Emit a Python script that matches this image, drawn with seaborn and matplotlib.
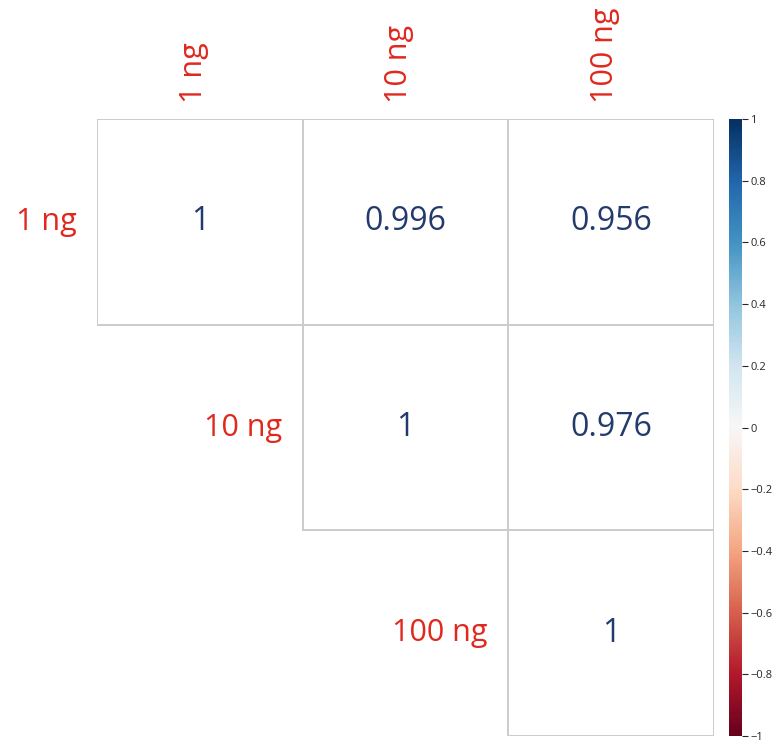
import numpy as np
import pandas as pd
import matplotlib
matplotlib.use("Agg")
import matplotlib.pyplot as plt
import seaborn as sns
from matplotlib.colors import ListedColormap, Normalize
from matplotlib.cm import ScalarMappable

labels = ["1 ng", "10 ng", "100 ng"]
row_1ng = [1.0, 0.996, 0.956]
row_10ng = [0.996, 1.0, 0.976]
row_100ng = [0.956, 0.976, 1.0]
cbar_ticks = [-1, -0.8, -0.6, -0.4, -0.2, 0, 0.2, 0.4, 0.6, 0.8, 1]

corr = pd.DataFrame([row_1ng, row_10ng, row_100ng], index=labels, columns=labels)
mask = np.tril(np.ones(corr.shape, dtype=bool), k=-1)

sns.set_style("white")
plt.rcParams['font.family'] = ['Open Sans', 'DejaVu Sans']

fig = plt.figure(figsize=(7.72, 7.41), dpi=100)
ax = fig.add_axes([0.1256, 0.0067, 0.7993, 0.8327])
cax = fig.add_axes([0.9443, 0.0067, 0.0168, 0.8327])

annot = corr.map(lambda v: f"{v:g}")
sns.heatmap(corr, mask=mask, cmap=ListedColormap(["white"]), cbar=False,
            annot=annot, fmt="", annot_kws={"fontsize": 23, "color": "#233a6c"},
            linewidths=1.3, linecolor="#cccccc", ax=ax)

# only outline the cells that are shown (upper triangle)
mesh = ax.collections[0]
edge = np.array([[0.8, 0.8, 0.8, 1.0] if not m else [0, 0, 0, 0]
                 for m in mask.ravel()])
mesh.set_edgecolors(edge)

ax.set_xticks([])
ax.set_yticks([])
for s in ax.spines.values():
    s.set_visible(False)

red = "#e0281e"
for i, lab in enumerate(labels):
    ax.text(i + 0.47, -0.08, lab, rotation=90, ha="center", va="bottom",
            fontsize=22, color=red, clip_on=False)
    ax.text(i - 0.1, i + 0.5, lab, ha="right", va="center",
            fontsize=22, color=red, clip_on=False)

sm = ScalarMappable(norm=Normalize(-1, 1), cmap="RdBu")
cb = fig.colorbar(sm, cax=cax, ticks=cbar_ticks)
cb.outline.set_visible(False)
cb.ax.set_yticklabels([f"{t:g}".replace("-", "\u2212") for t in cbar_ticks])
cb.ax.tick_params(labelsize=8, length=4, width=0.8, pad=2)

fig.savefig("out.png", dpi=100)
